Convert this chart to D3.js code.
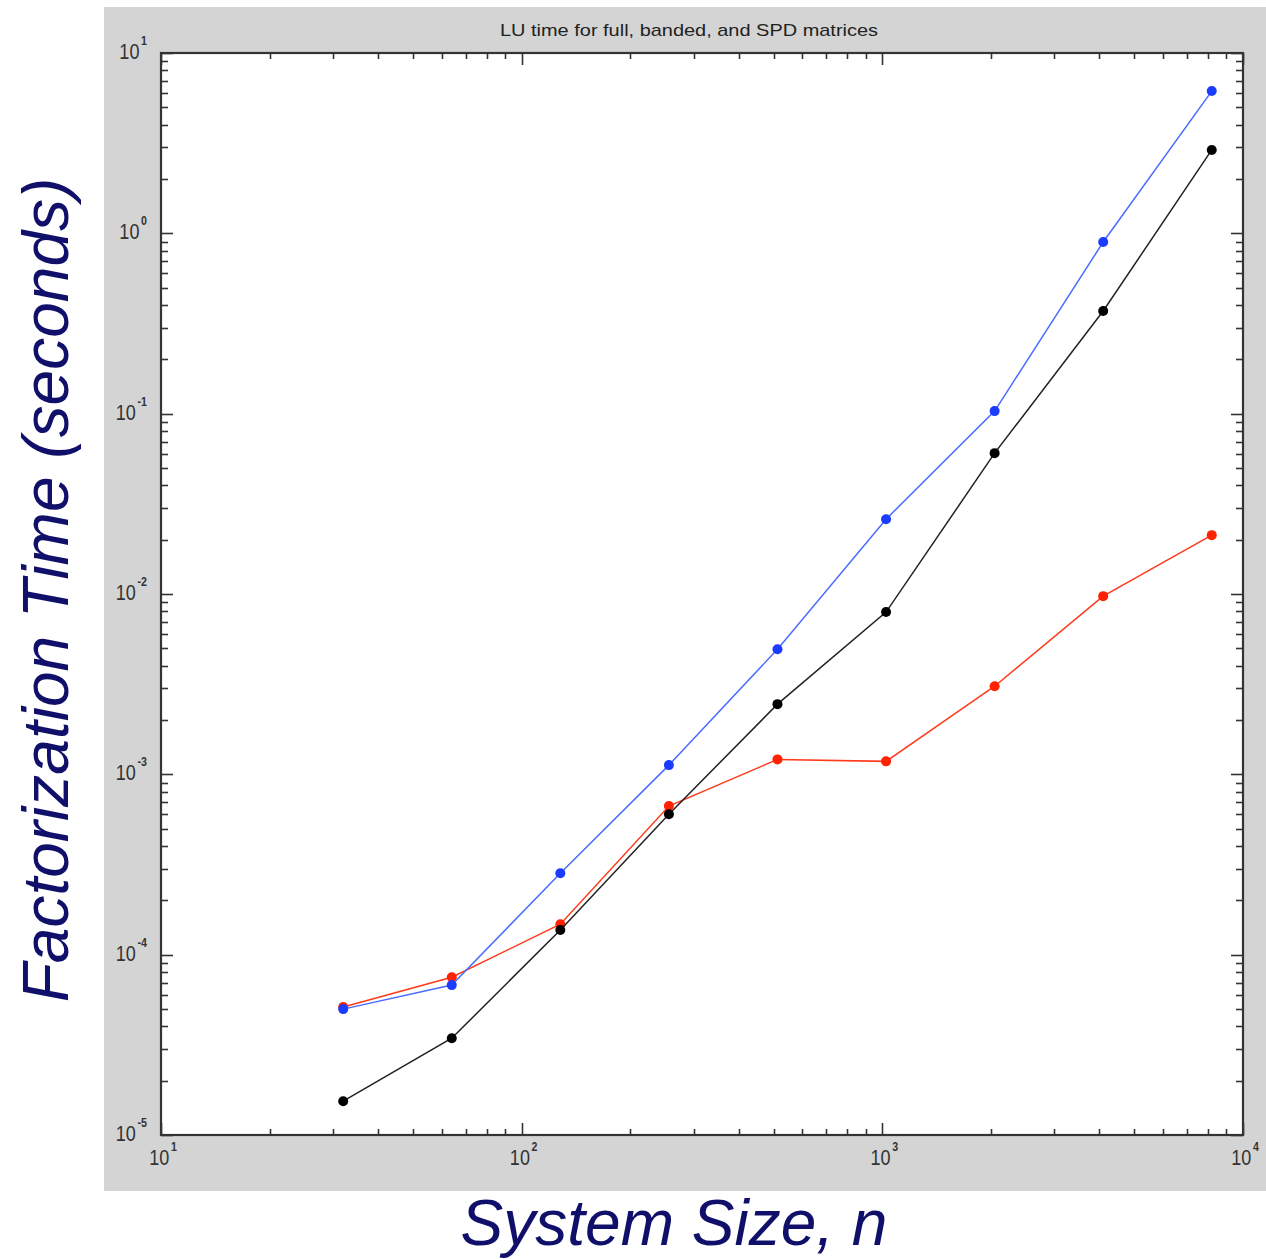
<!DOCTYPE html>
<html><head><meta charset="utf-8">
<script src="https://cdn.jsdelivr.net/npm/d3@7"></script>
<style>body{margin:0;background:#fff;} svg{display:block;}</style>
</head><body>
<svg id="c" width="1266" height="1259"></svg>
<script>
const sizes = [32, 64, 128, 256, 512, 1024, 2048, 4096, 8192];
const fullTimes   = [4.99e-5, 6.78e-5, 2.83e-4, 1.125e-3, 4.94e-3, 0.026, 0.1033, 0.895, 6.15];
const spdTimes    = [1.54e-5, 3.44e-5, 1.37e-4, 6.01e-4, 2.45e-3, 7.94e-3, 0.0604, 0.371, 2.90];
const bandedTimes = [5.12e-5, 7.50e-5, 1.476e-4, 6.67e-4, 1.21e-3, 1.18e-3, 3.08e-3, 9.73e-3, 0.0212];
const xTickExps = [1, 2, 3, 4];
const yTickExps = [1, 0, -1, -2, -3, -4, -5];
const titleText = "LU time for full, banded, and SPD matrices";
const xLabel = "System Size, n";
const yLabel = "Factorization Time (seconds)";

const svg = d3.select("#c");
const L = 161, R = 1243, T = 53, B = 1135;
const x = d3.scaleLog().domain([10, 1e4]).range([L, R]);
const y = d3.scaleLog().domain([1e-5, 10]).range([B, T]);

svg.append("rect").attr("x", 104).attr("y", 7).attr("width", 1162).attr("height", 1184).attr("fill", "#d4d4d4");
svg.append("rect").attr("x", L).attr("y", T).attr("width", R - L).attr("height", B - T).attr("fill", "#fff");

svg.append("text").attr("x", 689).attr("y", 36).attr("text-anchor", "middle")
  .attr("font-family", "Liberation Sans Narrow, Liberation Sans, Arial").attr("font-size", 17)
  .attr("textLength", 378).attr("lengthAdjust", "spacingAndGlyphs").attr("fill", "#222").text(titleText);

// ticks
const isMajor = v => Math.abs(Math.log10(v) - Math.round(Math.log10(v))) < 1e-9;
const tg = svg.append("g").attr("stroke", "#333").attr("stroke-width", 1.6);
x.ticks().forEach(v => {
  const len = isMajor(v) ? 12 : 6;
  const px = Math.round(x(v)) + 0.5;
  tg.append("line").attr("x1", px).attr("x2", px).attr("y1", B).attr("y2", B - len);
  tg.append("line").attr("x1", px).attr("x2", px).attr("y1", T).attr("y2", T + len);
});
y.ticks().forEach(v => {
  const len = isMajor(v) ? 12 : 7;
  const py = Math.round(y(v)) + 0.5;
  tg.append("line").attr("y1", py).attr("y2", py).attr("x1", L).attr("x2", L + len);
  tg.append("line").attr("y1", py).attr("y2", py).attr("x1", R).attr("x2", R - len);
});
svg.append("rect").attr("x", L).attr("y", T).attr("width", R - L).attr("height", B - T)
  .attr("fill", "none").attr("stroke", "#333").attr("stroke-width", 2.2);

// tick labels
const lf = "Liberation Sans, Arial";
function label(px, py, exp, anchor) {
  const g = svg.append("g").attr("transform", `translate(${px},${py}) scale(0.82,1)`);
  const t = g.append("text").attr("x", 0).attr("y", 0).attr("text-anchor", anchor)
    .attr("font-family", lf).attr("font-size", 22).attr("fill", "#333");
  t.append("tspan").text("10");
  t.append("tspan").attr("dx", 2).attr("dy", -14).attr("font-size", 13).attr("font-weight", "bold").text(exp);
}
yTickExps.forEach(e => label(147, y(Math.pow(10, e)) + 6, e, "end"));
xTickExps.forEach(e => label(x(Math.pow(10, e)) + 2, 1165, e, "middle"));

// series
const series = [
  {vals: bandedTimes, line: "#ff3a1a", dot: "#ff2200"},
  {vals: fullTimes, line: "#4a6cff", dot: "#1a3cff"},
  {vals: spdTimes, line: "#222", dot: "#000"}
];
const lineGen = d3.line().x(d => x(d[0])).y(d => y(d[1]));
series.forEach(s => {
  const pts = sizes.map((n, i) => [n, s.vals[i]]);
  svg.append("path").attr("d", lineGen(pts)).attr("fill", "none").attr("stroke", s.line).attr("stroke-width", 1.5);
  svg.append("g").selectAll("circle").data(pts).join("circle")
    .attr("cx", d => x(d[0])).attr("cy", d => y(d[1])).attr("r", 5).attr("fill", s.dot);
});

// axis titles
svg.append("text").attr("x", 674).attr("y", 1245).attr("text-anchor", "middle")
  .attr("font-family", lf).attr("font-style", "italic").attr("font-size", 64).attr("fill", "#10106b").text(xLabel);
svg.append("text").attr("transform", "translate(68,590) rotate(-90)").attr("text-anchor", "middle")
  .attr("font-family", lf).attr("font-style", "italic").attr("font-size", 64).attr("fill", "#10106b").text(yLabel);
</script>
</body></html>
